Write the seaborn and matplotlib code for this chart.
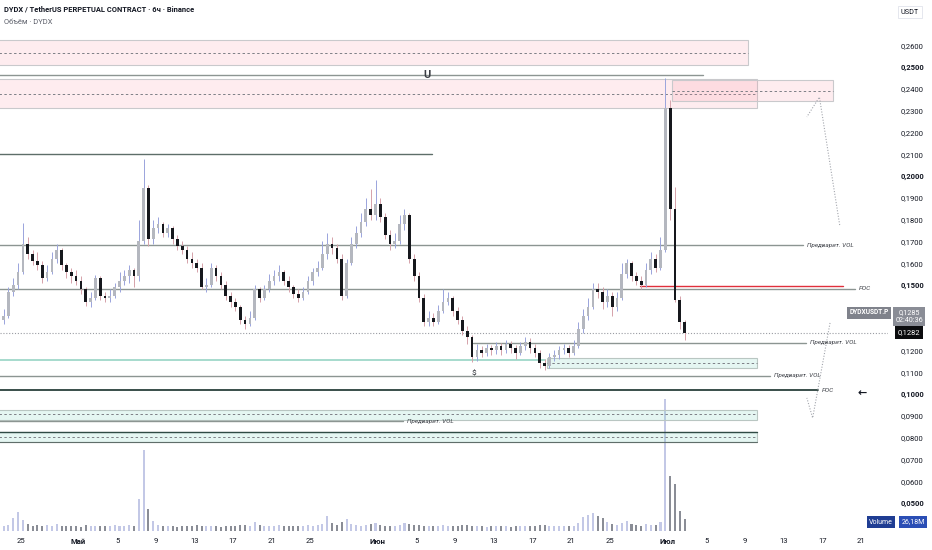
import numpy as np
import pandas as pd
import matplotlib
matplotlib.use("Agg")
import matplotlib.pyplot as plt
from matplotlib.patches import Rectangle
import seaborn as sns

# ---- data (12h candles, day 0 = 25 Apr) ----
first_open = 0.1340
close = [
    0.1360, 0.1470, 0.1500, 0.1560, 0.1690, 0.1640, 0.1610, 0.1590, 0.1530, 0.1560,
    0.1620, 0.1660, 0.1590, 0.1560, 0.1540, 0.1520, 0.1480, 0.1420, 0.1440, 0.1530,
    0.1450, 0.1440, 0.1450, 0.1490, 0.1520, 0.1540, 0.1570, 0.1540, 0.1700, 0.1945,
    0.1710, 0.1760, 0.1780, 0.1740, 0.1760, 0.1710, 0.1680, 0.1660, 0.1620, 0.1600,
    0.1580, 0.1490, 0.1500, 0.1580, 0.1540, 0.1500, 0.1450, 0.1420, 0.1400, 0.1340,
    0.1320, 0.1350, 0.1480, 0.1440, 0.1480, 0.1520, 0.1540, 0.1560, 0.1520, 0.1490,
    0.1460, 0.1440, 0.1470, 0.1520, 0.1560, 0.1580, 0.1640, 0.1690, 0.1670, 0.1620,
    0.1450, 0.1600, 0.1690, 0.1740, 0.1790, 0.1850, 0.1820, 0.1870, 0.1810, 0.1730,
    0.1690, 0.1700, 0.1780, 0.1820, 0.1620, 0.1540, 0.1440, 0.1330, 0.1350, 0.1330,
    0.1380, 0.1420, 0.1440, 0.1380, 0.1340, 0.1290, 0.1260, 0.1170, 0.1200, 0.1190,
    0.1210, 0.1200, 0.1220, 0.1200, 0.1230, 0.1210, 0.1190, 0.1220, 0.1240, 0.1210,
    0.1190, 0.1140, 0.1130, 0.1170, 0.1180, 0.1200, 0.1210, 0.1190, 0.1220, 0.1300,
    0.1360, 0.1400, 0.1480, 0.1470, 0.1420, 0.1450, 0.1400, 0.1440, 0.1550, 0.1600,
    0.1540, 0.1520, 0.1500, 0.1570, 0.1620, 0.1580, 0.1660, 0.2310, 0.1850, 0.1430,
    0.1330, 0.1282,
]
high = [
    0.1390, 0.1490, 0.1530, 0.1600, 0.1785, 0.1720, 0.1660, 0.1650, 0.1610, 0.1590,
    0.1650, 0.1690, 0.1670, 0.1600, 0.1580, 0.1570, 0.1540, 0.1490, 0.1470, 0.1545,
    0.1540, 0.1470, 0.1480, 0.1510, 0.1560, 0.1570, 0.1590, 0.1580, 0.1800, 0.2080,
    0.1960, 0.1800, 0.1810, 0.1790, 0.1780, 0.1770, 0.1730, 0.1700, 0.1680, 0.1650,
    0.1620, 0.1600, 0.1530, 0.1600, 0.1590, 0.1560, 0.1520, 0.1470, 0.1440, 0.1410,
    0.1360, 0.1380, 0.1500, 0.1490, 0.1500, 0.1550, 0.1570, 0.1590, 0.1570, 0.1540,
    0.1500, 0.1480, 0.1490, 0.1540, 0.1580, 0.1610, 0.1700, 0.1740, 0.1720, 0.1690,
    0.1640, 0.1620, 0.1720, 0.1770, 0.1830, 0.1900, 0.1940, 0.1980, 0.1900, 0.1830,
    0.1750, 0.1740, 0.1820, 0.1850, 0.1830, 0.1640, 0.1560, 0.1460, 0.1380, 0.1370,
    0.1410, 0.1480, 0.1470, 0.1450, 0.1400, 0.1360, 0.1310, 0.1270, 0.1230, 0.1220,
    0.1230, 0.1225, 0.1240, 0.1235, 0.1250, 0.1245, 0.1225, 0.1240, 0.1260, 0.1255,
    0.1230, 0.1200, 0.1160, 0.1190, 0.1200, 0.1220, 0.1230, 0.1225, 0.1250, 0.1330,
    0.1390, 0.1440, 0.1510, 0.1510, 0.1490, 0.1480, 0.1470, 0.1470, 0.1600, 0.1620,
    0.1610, 0.1560, 0.1540, 0.1600, 0.1650, 0.1640, 0.1720, 0.2450, 0.2350, 0.1950,
    0.1450, 0.1340,
]
low = [
    0.1320, 0.1350, 0.1450, 0.1480, 0.1550, 0.1620, 0.1590, 0.1570, 0.1510, 0.1520,
    0.1550, 0.1600, 0.1570, 0.1530, 0.1510, 0.1500, 0.1460, 0.1405, 0.1400, 0.1430,
    0.1430, 0.1420, 0.1420, 0.1440, 0.1470, 0.1500, 0.1510, 0.1490, 0.1520, 0.1690,
    0.1680, 0.1690, 0.1740, 0.1720, 0.1720, 0.1690, 0.1660, 0.1640, 0.1600, 0.1580,
    0.1560, 0.1480, 0.1470, 0.1490, 0.1520, 0.1480, 0.1430, 0.1400, 0.1380, 0.1320,
    0.1300, 0.1310, 0.1340, 0.1420, 0.1430, 0.1470, 0.1500, 0.1520, 0.1500, 0.1470,
    0.1440, 0.1420, 0.1430, 0.1460, 0.1500, 0.1540, 0.1570, 0.1620, 0.1640, 0.1600,
    0.1430, 0.1440, 0.1590, 0.1670, 0.1720, 0.1770, 0.1800, 0.1800, 0.1790, 0.1710,
    0.1660, 0.1670, 0.1690, 0.1750, 0.1600, 0.1520, 0.1420, 0.1310, 0.1310, 0.1310,
    0.1320, 0.1370, 0.1410, 0.1360, 0.1320, 0.1270, 0.1230, 0.1145, 0.1150, 0.1170,
    0.1175, 0.1180, 0.1185, 0.1180, 0.1190, 0.1190, 0.1160, 0.1180, 0.1200, 0.1190,
    0.1170, 0.1120, 0.1110, 0.1120, 0.1150, 0.1160, 0.1185, 0.1170, 0.1180, 0.1210,
    0.1280, 0.1340, 0.1390, 0.1440, 0.1390, 0.1400, 0.1360, 0.1380, 0.1430, 0.1530,
    0.1520, 0.1500, 0.1480, 0.1490, 0.1550, 0.1560, 0.1570, 0.1650, 0.1800, 0.1420,
    0.1300, 0.1250,
]
volume_m = [
    12, 14, 28, 42, 24, 16, 12, 14, 11, 13,
    10, 15, 12, 11, 10, 12, 9, 13, 11, 12,
    10, 11, 12, 13, 10, 11, 14, 12, 70, 178,
    48, 22, 14, 12, 11, 10, 9, 12, 10, 11,
    13, 12, 11, 10, 12, 9, 10, 11, 12, 14,
    13, 12, 20, 14, 12, 11, 12, 13, 10, 11,
    12, 10, 11, 13, 12, 14, 16, 34, 18, 14,
    20, 26, 16, 14, 12, 13, 15, 18, 14, 12,
    11, 12, 13, 18, 16, 14, 13, 12, 11, 10,
    12, 14, 11, 10, 12, 13, 14, 12, 11, 10,
    9, 10, 11, 12, 10, 9, 11, 12, 10, 11,
    12, 14, 13, 11, 10, 12, 11, 10, 12, 18,
    30, 36, 40, 32, 28, 20, 16, 14, 18, 22,
    16, 14, 12, 15, 14, 13, 20, 290, 121, 103,
    44, 26.18,
]

price_ticks = [0.26, 0.25, 0.24, 0.23, 0.22, 0.21, 0.20, 0.19, 0.18, 0.17, 0.16,
               0.15, 0.12, 0.11, 0.10, 0.09, 0.08, 0.07, 0.06, 0.05]
date_days = [0, 6, 10, 14, 18, 22, 26, 30, 37, 41, 45, 49, 53, 57, 61, 67, 71, 75, 79, 83, 87]
date_labels = ["25", "Май", "5", "9", "13", "17", "21", "25", "Июн", "5", "9", "13",
               "17", "21", "25", "Июл", "5", "9", "13", "17", "21"]
months = ["Май", "Июн", "Июл"]

# zones: left day, right day, top price, bottom price, mid (dashed) price
zone_left = [-3, -3, 67.4, 54.5, -3, -3]
zone_right = [75.3, 76.2, 84.1, 76.2, 76.2, 76.2]
zone_top = [0.2624, 0.2445, 0.2440, 0.1165, 0.0927, 0.0826]
zone_bottom = [0.2509, 0.2312, 0.2344, 0.1119, 0.0881, 0.0780]
zone_mid = [0.2564, 0.2376, 0.2390, 0.1142, 0.0908, 0.0803]
zone_kind = ["red", "red", "red", "green", "green", "green_dark"]

# horizontal levels: price, start day, end day, label
level_price = [0.2463, 0.2101, 0.1683, 0.1482, 0.1234, 0.1083, 0.1018, 0.0876]
level_start = [-3, -3, -3, -3, 46.8, -3, -3, -3]
level_end = [70.7, 42.6, 81.0, 86.4, 81.3, 77.6, 82.6, 39.6]
level_label = ["", "", "Предварит. VOL", "POC", "Предварит. VOL", "Предварит. VOL", "POC",
               "Предварит. VOL"]
red_poc = (0.1495, 64.1, 85.1)
teal_level = (0.1156, -3, 54.3)
last_price = 0.1282

n = len(close)
open_ = [first_open] + close[:-1]
day = -1.75 + 0.5 * np.arange(n)

df = pd.DataFrame({"day": day, "open": open_, "close": close, "high": high,
                   "low": low, "vol": volume_m})
df["dir"] = np.where(df["close"] >= df["open"], "up", "down")

# ---- style ----
sns.set_theme(style="white")
plt.rcParams["font.family"] = ["Roboto", "DejaVu Sans"]

W, H = 932, 550
fig = plt.figure(figsize=(W / 100, H / 100), dpi=100)
fig.patch.set_facecolor("white")
ax = fig.add_axes([0, 19 / H, 888 / W, 531 / H])
ax_v = ax.twinx()

# volume
sns.barplot(data=df, x="day", y="vol", hue="dir", native_scale=True, dodge=False,
            palette={"up": "#c3c8e6", "down": "#8a8d96"}, width=0.42, linewidth=0,
            saturation=1, errorbar=None, legend=False, ax=ax_v)
ax_v.set_ylim(0, 1170)
ax_v.set_axis_off()

ax.set_zorder(ax_v.get_zorder() + 1)
ax.patch.set_visible(False)

# zones
for l, r, t, b, m, k in zip(zone_left, zone_right, zone_top, zone_bottom, zone_mid, zone_kind):
    if k == "red":
        fc, ec = (0.98, 0.55, 0.62, 0.16), "#c9c9cc"
    else:
        fc, ec = (0.55, 0.85, 0.78, 0.22), "#b9c6c2"
    ax.add_patch(Rectangle((l, b), r - l, t - b, facecolor=fc, edgecolor=ec, lw=0.8, zorder=1))
    if k == "green_dark":
        ax.plot([l, r], [t, t], color="#2f4a44", lw=1.0, zorder=1)
        ax.plot([l, r], [b, b], color="#5f6e6a", lw=0.8, zorder=1)
    ax.plot([l, r], [m, m], color="#7d7f86", lw=0.7, ls=(0, (2.5, 2.5)), zorder=1)

# levels
for p, s, e, lab in zip(level_price, level_start, level_end, level_label):
    col, lw = "#8c9592", 1.0
    if p == 0.2101:
        col = "#5d6e69"
    if p == 0.1018:
        col, lw = "#2a403b", 1.3
    ax.plot([s, e], [p, p], color=col, lw=lw, zorder=2)
    if lab:
        ax.text(e + 0.4, p, lab, fontsize=4.6, style="italic", color="#3c3f46",
                va="center", ha="left")
ax.plot([red_poc[1], red_poc[2]], [red_poc[0]] * 2, color="#e0303c", lw=1.0, zorder=3)
ax.plot([teal_level[1], teal_level[2]], [teal_level[0]] * 2, color="#9fd8c9", lw=1.3, zorder=2)
ax.axhline(last_price, color="#9a9ca3", lw=0.8, ls=(0, (1, 1.6)), zorder=2)

# dotted arrows
ax.plot([84.8, 82.7, 81.4], [0.1775, 0.2362, 0.2271], color="#a3a6ad", lw=0.8,
        ls=(0, (1, 1.5)), zorder=2)
ax.plot([83.8, 82.0, 81.4], [0.1326, 0.0890, 0.0982], color="#a3a6ad", lw=0.8,
        ls=(0, (1, 1.5)), zorder=2)

# candles
up = df["dir"] == "up"
wick_col = np.where(up, "#9aa4dc", "#d5a2aa")
ax.vlines(df["day"], df["low"], df["high"], colors=wick_col, lw=0.7, zorder=4)
body_bot = np.minimum(df["open"], df["close"])
body_h = np.maximum(np.abs(df["close"] - df["open"]), 0.0006)
body_col = np.where(up, "#b4b7bf", "#16181d")
ax.bar(df["day"], body_h, bottom=body_bot, width=0.28, color=body_col, linewidth=0, zorder=5)

# marks
ax.text(42.1, 0.2463, "U", fontsize=8, weight="bold", color="#3a3d44", ha="center",
        va="center", zorder=6)
ax.text(46.9, 0.1096, "$", fontsize=6, color="#2a2d33", ha="center", va="center")
ax.text(87.1, 0.1005, "←", fontsize=8, weight="bold", color="#131722", ha="center",
        va="center", family=["DejaVu Sans"])

# axes
ax.set_xlim(-2.12, 89.8)
ax.set_ylim(0.03716, 0.28073)
ax_v.set_xlim(-2.12, 89.8)
for s in ax.spines.values():
    s.set_visible(False)
ax.yaxis.tick_right()
ax.set_yticks(price_ticks)
ax.set_yticklabels([f"{v:.4f}".replace(".", ",") for v in price_ticks])
ax.tick_params(axis="y", length=0, pad=9, labelsize=5.5, labelcolor="#131722")
for t, v in zip(ax.get_yticklabels(), price_ticks):
    if round(v * 100) % 5 == 0:
        t.set_fontweight("bold")
ax.set_xticks(date_days)
ax.set_xticklabels(date_labels)
ax.tick_params(axis="x", length=0, pad=5, labelsize=5.5, labelcolor="#131722")
for t in ax.get_xticklabels():
    if t.get_text() in months:
        t.set_fontweight("bold")
ax.set_xlabel("")
ax.set_ylabel("")
ax.grid(False)


def fx(x):
    return x / W


def fy(y):
    return 1 - y / H


# header
fig.text(fx(4), fy(9), "DYDX / TetherUS PERPETUAL CONTRACT · 6ч · Binance", fontsize=5.4,
         weight="bold", color="#131722", va="center")
fig.text(fx(4), fy(23), "Объём · DYDX", fontsize=5.4, color="#5d606b", va="center")
fig.text(fx(910), fy(12), "USDT", fontsize=5.2, color="#131722", ha="center", va="center",
         bbox=dict(boxstyle="square,pad=0.35", fc="white", ec="#e0e3eb", lw=0.6))

# price labels
fig.text(fx(869), fy(312.5), "DYDXUSDT.P", fontsize=4.8, weight="bold", color="white",
         ha="center", va="center",
         bbox=dict(boxstyle="square,pad=0.3", fc="#7f828b", ec="none"))
fig.text(fx(909), fy(316.5), "0,1285\n02:40:36", fontsize=5.2, color="white", ha="center",
         va="center", linespacing=1.1,
         bbox=dict(boxstyle="square,pad=0.35", fc="#8a8d96", ec="none"))
fig.text(fx(909), fy(332.5), "0,1282", fontsize=5.4, color="white", ha="center",
         va="center", bbox=dict(boxstyle="square,pad=0.35", fc="#0b0c0e", ec="none"))

# volume legend
fig.text(fx(881), fy(522), "Volume", fontsize=5, color="white", ha="center", va="center",
         bbox=dict(boxstyle="square,pad=0.3", fc="#1f3d93", ec="none"))
fig.text(fx(913), fy(522), "26,18M", fontsize=5, color="white", ha="center", va="center",
         bbox=dict(boxstyle="square,pad=0.3", fc="#2b4eb5", ec="none"))

fig.savefig("out.png", dpi=100)
